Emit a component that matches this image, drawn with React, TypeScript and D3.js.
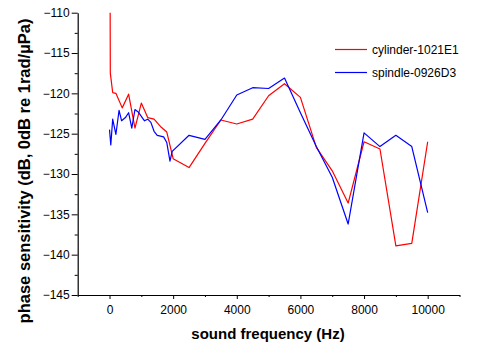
import { useEffect, useRef } from "react";
import * as d3 from "d3";

// cylinder-1021E1
const cylFreq = [20, 25, 100, 200, 400, 600, 800, 1000, 1200, 1400, 1600, 1800, 2000, 2500, 3000, 3500, 4000, 4500, 5000, 5500, 6000, 6500, 7000, 7500, 8000, 8500, 9000, 9500, 10000];
const cylVal = [-110, -117.5, -119.9, -120.0, -121.8, -120.1, -124.3, -121.2, -123.0, -123.2, -124.1, -124.8, -128.1, -129.2, -126.2, -123.3, -123.8, -123.2, -120.3, -118.8, -120.5, -126.7, -129.6, -133.6, -126.0, -126.9, -138.9, -138.6, -126.0];

// spindle-0926D3
const spiFreq = [0, 40, 100, 200, 300, 380, 500, 600, 700, 800, 900, 1100, 1200, 1300, 1400, 1500, 1700, 1800, 1900, 1970, 2500, 3000, 3500, 4000, 4500, 5000, 5500, 6000, 6500, 7000, 7500, 8000, 8500, 9000, 9500, 10000];
const spiVal = [-124.5, -126.4, -123.2, -125.1, -122.1, -123.4, -123.0, -122.4, -124.3, -122.0, -122.3, -123.4, -123.2, -123.6, -124.7, -125.2, -125.4, -126.1, -128.4, -127.2, -125.2, -125.7, -123.3, -120.2, -119.3, -119.4, -118.1, -122.4, -126.6, -130.4, -136.2, -124.9, -126.6, -125.2, -126.6, -134.8];

const yTicks = [-145, -140, -135, -130, -125, -120, -115, -110];
const xTicks = [0, 2000, 4000, 6000, 8000, 10000];

const seriesNames = ["cylinder-1021E1", "spindle-0926D3"];
const seriesColors = ["#ff0000", "#0000ff"];

export default function App() {
  const svgRef = useRef<SVGSVGElement | null>(null);
  const width = 481;
  const height = 344;
  const font = "'Liberation Sans', Arial, sans-serif";

  useEffect(() => {
    const x = d3.scaleLinear().domain([-1000, 11000]).range([77.7, 459.5]);
    const y = d3.scaleLinear().domain([-145, -110]).range([295, 12.7]);

    const svg = d3.select(svgRef.current);
    svg.selectAll("*").remove();

    // y axis
    const yMinor = d3.range(-145, -109.9, 2.5).filter((v) => !yTicks.includes(v));
    const gy = svg.append("g").attr("transform", `translate(${x(-1000)},0)`);
    gy.call(d3.axisLeft(y).tickValues(yMinor).tickSize(3).tickFormat(() => "").tickSizeOuter(0));
    gy.call((g) => g.select(".domain").remove());
    const gy2 = svg.append("g").attr("transform", `translate(${x(-1000)},0)`);
    gy2.call(d3.axisLeft(y).tickValues(yTicks).tickSize(6).tickSizeOuter(0).tickPadding(2));
    gy2.selectAll("text").attr("font-size", 12).attr("font-family", font).attr("fill", "#000");
    svg.selectAll("line, path").attr("stroke", "#000");

    // x axis
    const xMinor = d3.range(-1000, 11001, 2000);
    const gx = svg.append("g").attr("transform", `translate(0,${y(-145)})`);
    gx.call(d3.axisBottom(x).tickValues(xMinor).tickSize(2).tickFormat(() => "").tickSizeOuter(0));
    gx.call((g) => g.select(".domain").remove());
    const gx2 = svg.append("g").attr("transform", `translate(0,${y(-145)})`);
    gx2.call(d3.axisBottom(x).tickValues(xTicks).tickSize(4).tickSizeOuter(0).tickPadding(6).tickFormat(d3.format("d")));
    gx2.selectAll("text").attr("font-size", 12).attr("font-family", font).attr("fill", "#000");
    svg.selectAll(".domain").attr("stroke-width", 1.2);

    // lines
    const line = d3
      .line<[number, number]>()
      .x((d) => x(d[0]))
      .y((d) => y(d[1]));
    const series: [number, number][][] = [
      cylFreq.map((f, i) => [f, cylVal[i]]),
      spiFreq.map((f, i) => [f, spiVal[i]]),
    ];
    series.forEach((pts, i) => {
      svg
        .append("path")
        .attr("d", line(pts))
        .attr("fill", "none")
        .attr("stroke", seriesColors[i])
        .attr("stroke-width", 1.2)
        .attr("stroke-linejoin", "round");
    });

    // legend
    seriesNames.forEach((name, i) => {
      const ly = 49.5 + i * 23;
      svg
        .append("line")
        .attr("x1", 335)
        .attr("x2", 367)
        .attr("y1", ly)
        .attr("y2", ly)
        .attr("stroke", seriesColors[i])
        .attr("stroke-width", 1.2);
      svg
        .append("text")
        .attr("x", 372)
        .attr("y", ly + 4.3)
        .attr("font-size", 12)
        .attr("font-family", font)
        .text(name);
    });

    // axis titles
    svg
      .append("text")
      .attr("x", 268)
      .attr("y", 338.5)
      .attr("text-anchor", "middle")
      .attr("font-size", 15)
      .attr("font-weight", "bold")
      .attr("font-family", font)
      .text("sound frequency (Hz)");
    svg
      .append("text")
      .attr("transform", "translate(30,171) rotate(-90)")
      .attr("text-anchor", "middle")
      .attr("font-size", 16.5)
      .attr("font-weight", "bold")
      .attr("font-family", font)
      .text("phase sensitivity (dB, 0dB re 1rad/\u00b5Pa)");
  }, []);

  return (
    <svg
      ref={svgRef}
      width={width}
      height={height}
      style={{ position: "absolute", left: 0, top: 0, background: "#fff" }}
    />
  );
}
